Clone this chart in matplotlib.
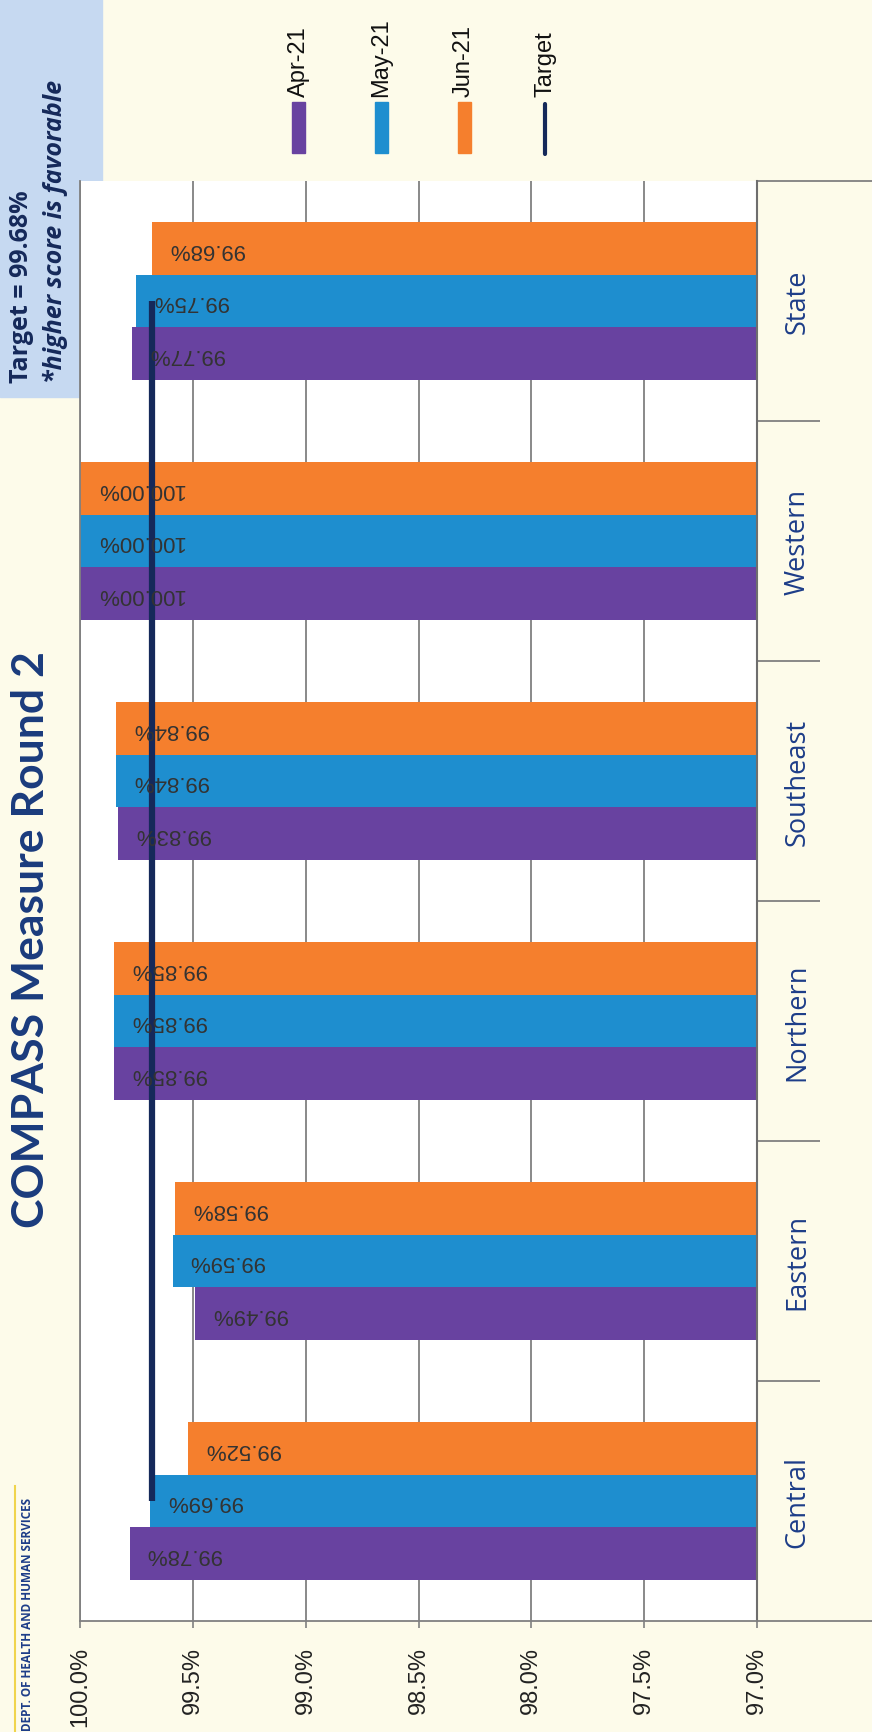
import numpy as np
import matplotlib.pyplot as plt
import matplotlib.transforms as mtransforms
from matplotlib.patches import Rectangle
from matplotlib.lines import Line2D

# Chart values
regions = ["Central", "Eastern", "Northern", "Southeast", "Western", "State"]
months = ["Apr-21", "May-21", "Jun-21"]
apr = [99.78, 99.49, 99.85, 99.83, 100.00, 99.77]
may = [99.69, 99.59, 99.85, 99.84, 100.00, 99.75]
jun = [99.52, 99.58, 99.85, 99.84, 100.00, 99.68]
target = [99.68, 99.68, 99.68, 99.68, 99.68, 99.68]
value_ticks = [97.0, 97.5, 98.0, 98.5, 99.0, 99.5, 100.0]
value_labels = ["97.0%", "97.5%", "98.0%", "98.5%", "99.0%", "99.5%", "100.0%"]

colors = ["#6842a0", "#1e8ecf", "#f57f2d"]
navy = "#15295a"
blue_txt = "#1d3d88"
grey = "#808080"

W, H = 872, 1733

def fx(px):
    return px / W

def fy(py):
    return 1 - py / H

fig = plt.figure(figsize=(W / 100, H / 100), dpi=100, facecolor="#fdfbea")
ax = fig.add_axes([fx(80), fy(1622), fx(757) - fx(80), fy(182) - fy(1622)])
ax.set_facecolor("white")

# Bars (page is rotated: bars grow from 97% on the right toward 100% on the left)
y = np.arange(len(regions))
h = 0.22
for i, (vals, c) in enumerate(zip([apr, may, jun], colors)):
    yy = y + (i - 1) * h
    ax.barh(yy, np.array(vals) - 97.0, left=97.0, height=h, color=c, zorder=2)
    for yi, v in zip(yy, vals):
        ax.annotate(f"{v:.2f}%", xy=(v, yi), xytext=(12, 0), textcoords="offset points",
                    rotation=180, rotation_mode="anchor", ha="right", va="center",
                    fontsize=16, color="#333333", family="Liberation Sans", zorder=4)

# Target line
ax.plot(target, y, color=navy, lw=4.5, solid_capstyle="butt", zorder=3)

ax.set_xlim(100, 97)
ax.set_ylim(-0.5, 5.5)

# Value axis (bottom)
ax.set_xticks(value_ticks)
ax.set_xticklabels(value_labels, rotation=90, fontsize=17, family="Liberation Sans", color="#222222")
ax.tick_params(axis="x", length=5, width=1.2, color=grey, pad=13)
ax.xaxis.grid(True, color=grey, lw=1.3)
ax.set_axisbelow(True)

# Category axis (right)
ax.yaxis.set_ticks_position("right")
ax.set_yticks(y)
ax.set_yticklabels(regions, rotation=90, ha="center", va="center", fontsize=19.5,
                   family="Open Sans", color=blue_txt)
ax.tick_params(axis="y", which="major", length=0, pad=29)
ax.set_yticks(y[:-1] + 0.5, minor=True)
ax.tick_params(axis="y", which="minor", length=45, width=1.3, color=grey,
               direction="out", right=True, left=False)

ax.spines["top"].set_visible(False)
for s in ["left", "bottom"]:
    ax.spines[s].set_color(grey)
    ax.spines[s].set_linewidth(1.3)
ax.spines["right"].set_color("#6e6e6e")
ax.spines["right"].set_linewidth(1.5)

trans = mtransforms.blended_transform_factory(ax.transAxes, ax.transData)
for yv in [-0.5, 5.5]:
    ax.plot([1, 1.17], [yv, yv], transform=trans, clip_on=False, color=grey, lw=1.3)

# Legend (drawn by hand, rotated like the page)
for xc, c, lab in zip([298.5, 381.5, 464], colors, months):
    fig.add_artist(Rectangle((fx(xc - 6.5), fy(154)), 13 / W, 51 / H, color=c,
                             transform=fig.transFigure))
    fig.text(fx(xc), fy(97), lab, rotation=90, ha="center", va="bottom", fontsize=17,
             family="Liberation Sans", color="#111111")
fig.add_artist(Line2D([fx(545), fx(545)], [fy(155), fy(105)], transform=fig.transFigure,
                      lw=3, color=navy, solid_capstyle="round"))
fig.text(fx(545), fy(97), "Target", rotation=90, ha="center", va="bottom", fontsize=17,
         family="Liberation Sans", color="#111111")

# Target note box
fig.add_artist(Rectangle((0, fy(398)), 102 / W, 398 / H, color="#c6d9f1",
                         transform=fig.transFigure, zorder=0))
fig.text(fx(22), fy(383), "Target = 99.68%", rotation=90, ha="center", va="bottom",
         fontsize=18, fontweight="bold", family="Open Sans", color=navy)
fig.text(fx(55), fy(383), "*higher score is favorable", rotation=90, ha="center", va="bottom",
         fontsize=18, fontweight="bold", style="italic", family="Open Sans", color=navy)

# Title and footer
fig.text(fx(31), fy(940), "COMPASS Measure Round 2", rotation=90, ha="center", va="center",
         fontsize=32, fontweight="bold", family="Lato", color="#1a3b7d")
fig.text(fx(28), fy(1731), "DEPT. OF HEALTH AND HUMAN SERVICES", rotation=90, ha="center",
         va="bottom", fontsize=8.5, fontweight="bold", family="Open Sans", color=blue_txt)
fig.add_artist(Line2D([fx(15), fx(15)], [fy(1733), fy(1487)], transform=fig.transFigure,
                      lw=1.5, color="#f0d44c"))

fig.savefig("out.png", dpi=100, facecolor=fig.get_facecolor())
